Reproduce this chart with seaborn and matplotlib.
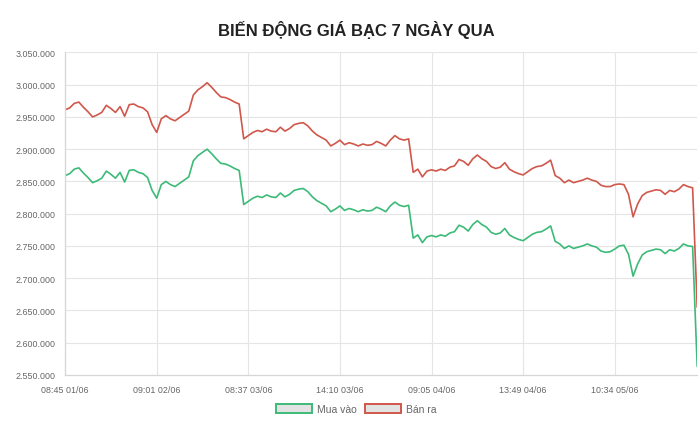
import numpy as np
import pandas as pd
import matplotlib
matplotlib.use('Agg')
import matplotlib.pyplot as plt
import seaborn as sns
from matplotlib.patches import Patch
from matplotlib.ticker import FuncFormatter

# giá mua vào / bán ra (nghìn đồng)
mua_vao = [2859, 2862, 2869, 2871, 2863, 2856, 2848, 2851, 2855, 2866,
           2861, 2855, 2864, 2849, 2867, 2868, 2864, 2862, 2856, 2836,
           2824, 2845, 2850, 2845, 2842, 2847, 2852, 2857, 2882, 2890,
           2895, 2900, 2893, 2885, 2878, 2877, 2874, 2870, 2867, 2814,
           2819, 2824, 2827, 2825, 2829, 2826, 2825, 2832, 2826, 2830,
           2836, 2838, 2839, 2834, 2826, 2820, 2816, 2812, 2803, 2807,
           2812, 2805, 2808, 2806, 2803, 2806, 2804, 2805, 2810, 2807,
           2803, 2812, 2818, 2813, 2811, 2813, 2762, 2767, 2755, 2764,
           2766, 2764, 2767, 2765, 2770, 2772, 2782, 2779, 2773, 2783,
           2789, 2783, 2779, 2771, 2768, 2770, 2777, 2767, 2763, 2760,
           2758, 2763, 2768, 2771, 2772, 2776, 2781, 2757, 2753, 2746,
           2750, 2746, 2748, 2750, 2753, 2750, 2748, 2742, 2740, 2741,
           2745, 2750, 2751, 2737, 2703, 2722, 2736, 2741, 2743, 2745,
           2744, 2738, 2744, 2742, 2746, 2753, 2750, 2749, 2563]

ban_ra = [2961, 2964, 2971, 2973, 2965, 2958, 2950, 2953, 2957, 2968,
          2963, 2957, 2966, 2951, 2969, 2970, 2966, 2964, 2958, 2938,
          2926, 2947, 2952, 2947, 2944, 2949, 2954, 2959, 2984, 2992,
          2997, 3003, 2996, 2988, 2981, 2980, 2977, 2973, 2970, 2916,
          2921, 2926, 2929, 2927, 2931, 2928, 2927, 2934, 2928, 2932,
          2938, 2940, 2941, 2936, 2928, 2922, 2918, 2914, 2905, 2909,
          2914, 2907, 2910, 2908, 2905, 2908, 2906, 2907, 2912, 2909,
          2905, 2914, 2921, 2916, 2914, 2916, 2864, 2869, 2857, 2866,
          2868, 2866, 2869, 2867, 2872, 2874, 2884, 2881, 2875, 2885,
          2891, 2885, 2881, 2873, 2870, 2872, 2879, 2869, 2865, 2862,
          2860, 2865, 2870, 2873, 2874, 2878, 2883, 2859, 2855, 2848,
          2852, 2848, 2850, 2852, 2855, 2852, 2850, 2844, 2842, 2842,
          2845, 2846, 2845, 2830, 2795, 2815, 2828, 2833, 2835, 2837,
          2836, 2830, 2836, 2834, 2838, 2845, 2842, 2840, 2655]

tick_labels = ['08:45 01/06', '09:01 02/06', '08:37 03/06', '14:10 03/06',
               '09:05 04/06', '13:49 04/06', '10:34 05/06']
tick_step = 20

series_names = ['Mua vào', 'Bán ra']
colors = {'Mua vào': '#3dba78', 'Bán ra': '#d0574b'}

n = len(mua_vao)
df = pd.DataFrame({
    'idx': list(range(n)) * 2,
    'price': [v * 1000 for v in mua_vao] + [v * 1000 for v in ban_ra],
    'series': ['Mua vào'] * n + ['Bán ra'] * n,
})

sns.set_style('white')
plt.rcParams['font.family'] = ['Liberation Sans', 'DejaVu Sans']

fig = plt.figure(figsize=(7, 4.31), dpi=100)
ax = fig.add_axes([0.093, 0.128, 0.903, 0.748])

# vẽ "Bán ra" trước để đường xanh nằm trên
sns.lineplot(data=df, x='idx', y='price', hue='series',
             hue_order=['Bán ra', 'Mua vào'], palette=colors,
             linewidth=1.2, legend=False, ax=ax)

ax.set_xlim(0, n - 1)
ax.set_ylim(2550000, 3050000)
ax.set_yticks(np.arange(2550000, 3050001, 50000))
ax.yaxis.set_major_formatter(FuncFormatter(lambda v, p: f'{v:,.0f}'.replace(',', '.')))
ax.set_xticks(list(range(0, tick_step * len(tick_labels), tick_step)))
ax.set_xticklabels(tick_labels)
ax.set_xlabel('')
ax.set_ylabel('')

grid_c = '#e5e5e5'
ax.grid(True, color=grid_c, linewidth=0.8)
ax.set_axisbelow(True)
for s in ['top', 'right']:
    ax.spines[s].set_visible(False)
for s in ['left', 'bottom']:
    ax.spines[s].set_color('#d6d6d6')
    ax.spines[s].set_linewidth(0.9)
ax.tick_params(axis='both', length=5, color=grid_c, labelsize=6.4,
               labelcolor='#666666', pad=2)

fig.text(0.509, 0.93, 'BIẾN ĐỘNG GIÁ BẠC 7 NGÀY QUA', ha='center', va='center',
         fontsize=12, fontweight='bold', color='#222222')

handles = [Patch(facecolor='#e3e3e3', edgecolor=colors[s], linewidth=1.4, label=s)
           for s in series_names]
fig.legend(handles=handles, loc='center', bbox_to_anchor=(0.509, 0.048), ncol=2,
           frameon=False, fontsize=7.5, labelcolor='#666666',
           handlelength=3.4, handleheight=0.9, columnspacing=0.8, handletextpad=0.5)

fig.savefig('out.png', dpi=100)
